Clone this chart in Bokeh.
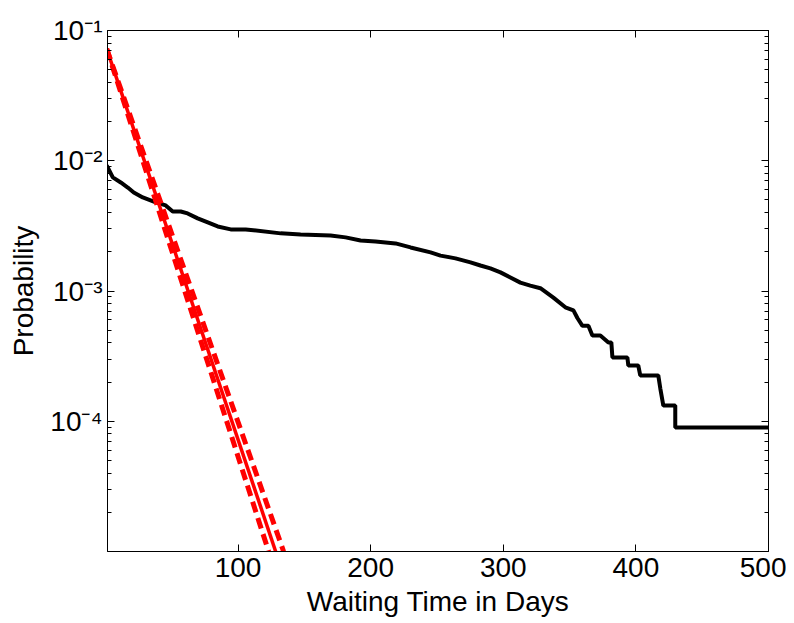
from bokeh.plotting import figure
from bokeh.models import (Range1d, FixedTicker, LinearAxis, LogAxis,
                          CustomJSTickFormatter)
from bokeh.embed import file_html
from bokeh.resources import INLINE

# ---------------- data ----------------
wait_days = [1, 5.6, 11.6, 16.9, 21.4, 28.2, 38.0, 45.5, 50.8, 56.8,
             62.0, 69.6, 77.2, 84.7, 94.5, 105.8, 132.2, 147.2, 169.8, 181.1,
             192.4, 203.7, 218.8, 230.1, 245.2, 252.7, 264.0, 275.3, 282.8, 290.3,
             297.9, 305.4, 312.9, 320.4, 328.0, 337.8, 346.8, 352.9, 355.9, 359.7,
             364.2, 367.2, 373.2, 379.3, 381.5, 382.3, 393.6, 394.3, 401.8, 403.3,
             416.9, 418.4, 420.7, 429.7, 429.7, 500]
empirical_prob = [0.0092, 0.00745, 0.00681, 0.00623, 0.00571, 0.00523, 0.00479, 0.00454, 0.00408, 0.00408,
                  0.00394, 0.00361, 0.00336, 0.00313, 0.00297, 0.00297, 0.00277, 0.00272, 0.00267, 0.00258,
                  0.00244, 0.00240, 0.00232, 0.00216, 0.00198, 0.00187, 0.00178, 0.00166, 0.00157, 0.00149,
                  0.00139, 0.00127, 0.00116, 0.00110, 0.00105, 0.00089, 0.00075, 0.00071, 0.00062, 0.00054,
                  0.00054, 0.000456, 0.000456, 0.000403, 0.000403, 0.000309, 0.000309, 0.000268, 0.000268, 0.000225,
                  0.000225, 0.000179, 0.000132, 0.000132, 0.0000897, 0.0000897]

fit_days = [1, 128.4]
fit_prob = [0.0723, 1e-5]
fit_hi_days = [1, 123.1]
fit_hi_prob = [0.0725, 1e-5]
fit_lo_days = [1, 134.4]
fit_lo_prob = [0.0721, 1e-5]

x_ticks = [100, 200, 300, 400, 500]
y_ticks = [1e-4, 1e-3, 1e-2, 1e-1]
y_minor = [m * 10.0 ** e for e in range(-5, -1) for m in range(2, 10)]

FONT = "Liberation Sans"

p = figure(frame_width=661, frame_height=521, y_axis_type="log",
           x_range=Range1d(1.6, 500), y_range=Range1d(1e-5, 1e-1),
           output_backend="svg", toolbar_location=None,
           min_border_left=107, min_border_top=30, min_border_right=18,
           min_border_bottom=56)
p.background_fill_color = "white"
p.border_fill_color = "white"
p.outline_line_color = "black"
p.outline_line_width = 1
p.xgrid.visible = False
p.ygrid.visible = False

p.line(wait_days, empirical_prob, line_color="black", line_width=4)
p.line(fit_days, fit_prob, line_color="#ff0000", line_width=3.5)
p.line(fit_hi_days, fit_hi_prob, line_color="#ff0000", line_width=5, line_dash="11 6")
p.line(fit_lo_days, fit_lo_prob, line_color="#ff0000", line_width=5, line_dash="11 6")

sup_fmt = CustomJSTickFormatter(code="""
const e = Math.round(Math.log10(tick));
const sup = {"-": "\u207b", "0": "\u2070", "1": "\u00b9", "2": "\u00b2", "3": "\u00b3",
             "4": "\u2074", "5": "\u2075", "6": "\u2076", "7": "\u2077", "8": "\u2078", "9": "\u2079"};
return "10" + String(e).split("").map(c => sup[c]).join("");
""")
blank_fmt = CustomJSTickFormatter(code="return '';")

def style(ax):
    ax.axis_line_color = "black"
    ax.axis_line_width = 1
    ax.major_tick_in = 7
    ax.major_tick_out = 0
    ax.minor_tick_in = 4
    ax.minor_tick_out = 0
    ax.major_tick_line_color = "black"
    ax.minor_tick_line_color = "black"
    ax.major_label_text_font = FONT
    ax.major_label_text_font_size = "28px"
    ax.major_label_text_color = "black"
    ax.axis_label_text_font = FONT
    ax.axis_label_text_font_size = "28px"
    ax.axis_label_text_font_style = "normal"
    ax.axis_label_text_color = "black"

xa = p.xaxis[0]
xa.ticker = FixedTicker(ticks=x_ticks)
xa.axis_label = "Waiting Time in Days"
style(xa)
xa.major_label_standoff = 6
xa.axis_label_standoff = 6

ya = p.yaxis[0]
ya.ticker = FixedTicker(ticks=y_ticks, minor_ticks=y_minor)
ya.formatter = sup_fmt
ya.axis_label = "Probability"
style(ya)
ya.major_label_standoff = 5
ya.axis_label_standoff = 8

top = LinearAxis(ticker=FixedTicker(ticks=x_ticks), formatter=blank_fmt)
style(top)
top.major_label_standoff = 0
p.add_layout(top, "above")

right = LogAxis(ticker=FixedTicker(ticks=y_ticks, minor_ticks=y_minor), formatter=blank_fmt)
style(right)
right.major_label_standoff = 0
p.add_layout(right, "right")

open("out.html", "w").write(file_html(p, INLINE))
